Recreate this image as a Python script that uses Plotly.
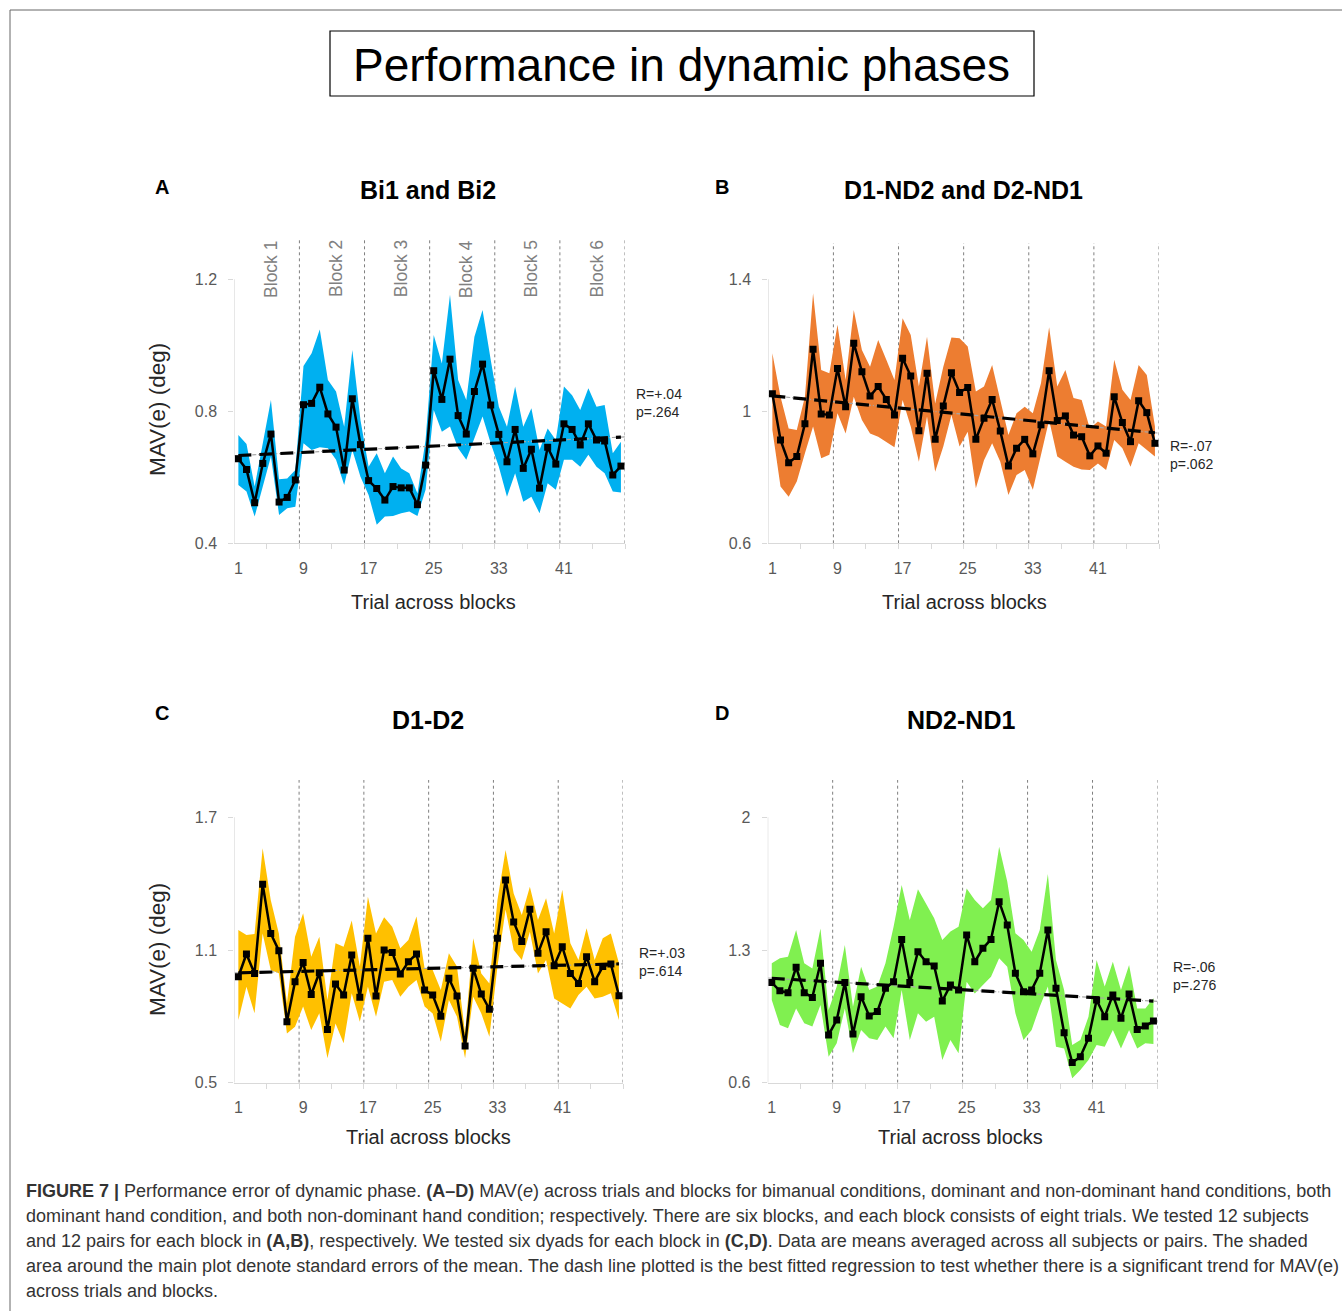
import plotly.graph_objects as go

# The capture squeezes the page vertically by ~1311/1320, so the figure is
# made 1320 px tall and reference pixel positions are mapped with REF_H.
W, H = 1342, 1320
REF_W, REF_H = 1342, 1311
FONT = "Liberation Sans, Arial, sans-serif"

# ---------------- data ----------------
trials = list(range(1, 49))
x_tick_vals = [1, 9, 17, 25, 33, 41]
block_bounds = [8.5, 16.5, 24.5, 32.5, 40.5, 48.5]
block_labels = ["Block 1", "Block 2", "Block 3", "Block 4", "Block 5", "Block 6"]
block_centers = [5, 13, 21, 29, 37, 45]

A_mean = [0.656, 0.624, 0.523, 0.642, 0.731, 0.525, 0.539, 0.592,
          0.820, 0.824, 0.873, 0.792, 0.752, 0.622, 0.838, 0.699,
          0.590, 0.566, 0.531, 0.572, 0.568, 0.568, 0.517, 0.637,
          0.923, 0.836, 0.958, 0.787, 0.731, 0.860, 0.943, 0.819,
          0.730, 0.647, 0.745, 0.627, 0.685, 0.567, 0.691, 0.640,
          0.762, 0.745, 0.698, 0.762, 0.713, 0.710, 0.607, 0.634]
A_upper = [0.728, 0.701, 0.572, 0.700, 0.834, 0.594, 0.596, 0.622,
           0.937, 0.976, 1.048, 0.895, 0.860, 0.753, 0.986, 0.774,
           0.632, 0.673, 0.612, 0.663, 0.627, 0.612, 0.551, 0.713,
           1.031, 0.945, 1.153, 0.895, 0.834, 1.026, 1.107, 0.956,
           0.814, 0.753, 0.875, 0.753, 0.809, 0.683, 0.748, 0.713,
           0.875, 0.849, 0.804, 0.870, 0.814, 0.819, 0.673, 0.708]
A_lower = [0.577, 0.557, 0.481, 0.572, 0.663, 0.486, 0.506, 0.511,
           0.703, 0.683, 0.691, 0.688, 0.653, 0.577, 0.683, 0.602,
           0.546, 0.456, 0.481, 0.483, 0.491, 0.496, 0.483, 0.562,
           0.804, 0.738, 0.754, 0.688, 0.653, 0.718, 0.784, 0.703,
           0.632, 0.541, 0.612, 0.526, 0.541, 0.491, 0.582, 0.562,
           0.653, 0.653, 0.632, 0.668, 0.632, 0.612, 0.557, 0.554]

B_mean = [1.053, 0.913, 0.844, 0.863, 0.962, 1.188, 0.992, 0.989,
          1.130, 1.014, 1.206, 1.120, 1.046, 1.075, 1.036, 0.989,
          1.161, 1.107, 0.941, 1.115, 0.915, 1.016, 1.117, 1.057,
          1.072, 0.915, 0.979, 1.036, 0.940, 0.834, 0.888, 0.915,
          0.871, 0.959, 1.123, 0.972, 0.986, 0.928, 0.923, 0.865,
          0.895, 0.873, 1.044, 0.966, 0.908, 1.032, 0.996, 0.903]
B_upper = [1.176, 1.044, 0.948, 0.943, 1.044, 1.358, 1.125, 1.115,
           1.262, 1.095, 1.307, 1.186, 1.135, 1.216, 1.156, 1.095,
           1.282, 1.231, 1.075, 1.226, 1.024, 1.135, 1.224, 1.221,
           1.196, 1.060, 1.075, 1.140, 1.034, 0.928, 0.994, 1.014,
           0.994, 1.085, 1.255, 1.075, 1.125, 1.040, 1.034, 0.948,
           0.969, 0.954, 1.156, 1.065, 1.034, 1.140, 1.110, 0.954]
B_lower = [0.943, 0.772, 0.741, 0.787, 0.873, 0.954, 0.858, 0.868,
           0.994, 0.933, 1.044, 0.974, 0.933, 0.923, 0.908, 0.891,
           1.034, 0.954, 0.847, 0.984, 0.817, 0.893, 0.989, 0.893,
           0.938, 0.767, 0.852, 0.903, 0.847, 0.746, 0.807, 0.822,
           0.762, 0.863, 0.974, 0.863, 0.847, 0.832, 0.824, 0.822,
           0.842, 0.822, 0.913, 0.888, 0.832, 0.903, 0.883, 0.863]

C_mean = [0.979, 1.082, 0.994, 1.397, 1.175, 1.097, 0.776, 0.957,
          1.043, 0.899, 0.997, 0.741, 0.946, 0.896, 1.077, 0.886,
          1.153, 0.892, 1.100, 1.089, 0.991, 1.047, 1.082, 0.919,
          0.896, 0.801, 0.972, 0.892, 0.666, 1.017, 0.901, 0.832,
          1.153, 1.417, 1.227, 1.138, 1.284, 1.085, 1.183, 1.029,
          1.115, 0.994, 0.949, 1.070, 0.957, 1.025, 1.037, 0.893]
C_upper = [1.190, 1.168, 1.172, 1.560, 1.326, 1.175, 0.859, 1.160,
           1.266, 1.070, 1.160, 0.874, 1.130, 1.115, 1.233, 1.025,
           1.341, 1.175, 1.248, 1.205, 1.108, 1.145, 1.251, 1.017,
           1.010, 0.919, 1.085, 1.025, 0.723, 1.153, 0.994, 0.949,
           1.326, 1.552, 1.356, 1.258, 1.386, 1.236, 1.334, 1.175,
           1.372, 1.130, 1.055, 1.198, 1.055, 1.153, 1.175, 1.040]
C_lower = [0.783, 0.934, 0.814, 1.175, 1.010, 0.995, 0.723, 0.753,
           0.844, 0.738, 0.814, 0.610, 0.768, 0.678, 0.904, 0.776,
           0.934, 0.798, 0.957, 0.964, 0.889, 0.934, 0.964, 0.844,
           0.813, 0.685, 0.874, 0.798, 0.610, 0.889, 0.813, 0.708,
           1.025, 1.283, 1.100, 1.055, 1.183, 0.994, 1.055, 0.881,
           0.859, 0.836, 0.896, 0.934, 0.881, 0.889, 0.904, 0.783]

D_mean = [1.128, 1.085, 1.075, 1.209, 1.075, 1.050, 1.230, 0.852,
          0.931, 1.128, 0.857, 1.054, 0.952, 0.975, 1.098, 1.133,
          1.356, 1.128, 1.291, 1.238, 1.216, 1.031, 1.115, 1.089,
          1.379, 1.238, 1.309, 1.356, 1.555, 1.432, 1.177, 1.080,
          1.089, 1.177, 1.406, 1.098, 0.864, 0.706, 0.737, 0.834,
          1.036, 0.948, 1.063, 0.940, 1.068, 0.881, 0.899, 0.925]
D_upper = [1.230, 1.256, 1.265, 1.406, 1.230, 1.203, 1.414, 0.983,
           1.107, 1.326, 1.001, 1.212, 1.089, 1.107, 1.230, 1.423,
           1.643, 1.458, 1.620, 1.546, 1.467, 1.353, 1.397, 1.423,
           1.625, 1.564, 1.520, 1.564, 1.845, 1.661, 1.388, 1.353,
           1.291, 1.406, 1.701, 1.247, 1.089, 0.799, 0.825, 0.948,
           1.247, 1.107, 1.238, 1.089, 1.221, 0.992, 0.992, 1.045]
D_lower = [1.036, 0.904, 0.887, 0.992, 0.913, 0.896, 1.010, 0.737,
           0.808, 0.992, 0.755, 0.878, 0.834, 0.825, 0.896, 0.834,
           1.089, 0.825, 0.966, 0.922, 0.948, 0.720, 0.825, 0.755,
           1.133, 1.071, 1.115, 1.159, 1.256, 1.212, 0.966, 0.825,
           0.878, 1.001, 1.107, 0.790, 0.781, 0.623, 0.667, 0.720,
           0.799, 0.790, 0.878, 0.781, 0.878, 0.781, 0.808, 0.804]

trend_x = [1, 48]
A_trend = [0.666, 0.722]
B_trend = [1.047, 0.935]
C_trend = [0.997, 1.037]
D_trend = [1.151, 1.030]

A_yticks = [0.4, 0.8, 1.2]; A_ytext = ["0.4", "0.8", "1.2"]
B_yticks = [0.6, 1.0, 1.4]; B_ytext = ["0.6", "1", "1.4"]
C_yticks = [0.5, 1.1, 1.7]; C_ytext = ["0.5", "1.1", "1.7"]
D_yticks = [0.6, 1.3, 2.0]; D_ytext = ["0.6", "1.3", "2"]

titles = ["Bi1 and Bi2", "D1-ND2 and D2-ND1", "D1-D2", "ND2-ND1"]
letters = ["A", "B", "C", "D"]
stats = ["R=+.04<br>p=.264", "R=-.07<br>p=.062", "R=+.03<br>p=.614", "R=-.06<br>p=.276"]

# ---------------- layout helpers (reference pixels -> paper) ----------------
def px(x):
    return x / REF_W

def py(y):
    return 1 - y / REF_H

panels = [
    dict(mean=A_mean, up=A_upper, lo=A_lower, trend=A_trend, color="#00B0F0",
         yt=A_yticks, ytt=A_ytext, xd=(234.3, 625.0), yd=(240.0, 543.3), span=264.0,
         letter=(162, 187), title=(428, 190), xtitle=(433, 602), ytitle=(157, 410),
         stat=(634, 403), blocks=True),
    dict(mean=B_mean, up=B_upper, lo=B_lower, trend=B_trend, color="#ED7D31",
         yt=B_yticks, ytt=B_ytext, xd=(768.3, 1159.0), yd=(243.0, 543.3), span=264.0,
         letter=(722, 187), title=(963, 190), xtitle=(964, 602), ytitle=None,
         stat=(1168, 455), blocks=False),
    dict(mean=C_mean, up=C_upper, lo=C_lower, trend=C_trend, color="#FFC000",
         yt=C_yticks, ytt=C_ytext, xd=(234.3, 623.0), yd=(780.0, 1082.7), span=265.4,
         letter=(162, 713), title=(428, 720), xtitle=(428, 1137), ytitle=(157, 950),
         stat=(637, 962), blocks=False),
    dict(mean=D_mean, up=D_upper, lo=D_lower, trend=D_trend, color="#80F050",
         yt=D_yticks, ytt=D_ytext, xd=(767.7, 1157.5), yd=(780.0, 1082.7), span=265.4,
         letter=(722, 713), title=(961, 720), xtitle=(961, 1137), ytitle=None,
         stat=(1171, 976), blocks=False),
]

fig = go.Figure()
annotations = []
shapes = []
layout_axes = {}

for i, p in enumerate(panels):
    n = "" if i == 0 else str(i + 1)
    xr, yr = "x" + n, "y" + n
    ymin, ymid, ymax = p["yt"]
    pix_per_unit = p["span"] / (ymax - ymin)
    ytop = ymin + (p["yd"][1] - p["yd"][0]) / pix_per_unit
    slope = (p["trend"][1] - p["trend"][0]) / (trend_x[1] - trend_x[0])

    # band (standard error)
    fig.add_trace(go.Scatter(
        x=trials + trials[::-1], y=p["up"] + p["lo"][::-1],
        fill="toself", fillcolor=p["color"], line=dict(width=0),
        mode="lines", hoverinfo="skip", showlegend=False, xaxis=xr, yaxis=yr))
    # grey dotted regression underlay, full width
    fig.add_trace(go.Scatter(
        x=[0.5, 48.5], y=[p["trend"][0] - slope * 0.5, p["trend"][1] + slope * 0.5],
        mode="lines", line=dict(color="#A6A6A6", width=1.2, dash="4px,2px,1px,2px"),
        showlegend=False, hoverinfo="skip", xaxis=xr, yaxis=yr))
    # black dashed regression
    fig.add_trace(go.Scatter(
        x=trend_x, y=p["trend"], mode="lines",
        line=dict(color="black", width=3.2, dash="13px,8px"),
        showlegend=False, hoverinfo="skip", xaxis=xr, yaxis=yr))
    # mean line
    fig.add_trace(go.Scatter(
        x=trials, y=p["mean"], mode="lines+markers",
        line=dict(color="black", width=2.5),
        marker=dict(symbol="square", size=7, color="black"),
        showlegend=False, xaxis=xr, yaxis=yr))

    layout_axes["xaxis" + n] = dict(
        domain=[px(p["xd"][0]), px(p["xd"][1])], anchor=yr,
        range=[0.5, 48.5], tickmode="array", tickvals=x_tick_vals,
        ticktext=[str(v) for v in x_tick_vals], ticks="",
        showline=True, linecolor="#D9D9D9", linewidth=1.2,
        showgrid=False, zeroline=False, ticklabelstandoff=10,
        tickfont=dict(family=FONT, size=16, color="#595959"),
        minor=dict(tickmode="array", tickvals=[4.5 + 4 * k for k in range(12)],
                   ticks="outside", ticklen=5, tickcolor="#D9D9D9", tickwidth=1,
                   showgrid=False))
    layout_axes["yaxis" + n] = dict(
        domain=[py(p["yd"][1]), py(p["yd"][0])], anchor=xr,
        range=[ymin, ytop], tickmode="array", tickvals=p["yt"], ticktext=p["ytt"],
        ticks="outside", ticklen=5, tickcolor="#D9D9D9", tickwidth=1,
        showline=False, showgrid=False, zeroline=False, ticklabelstandoff=8,
        tickfont=dict(family=FONT, size=16, color="#595959"))

    # y axis line (only up to the top tick)
    shapes.append(dict(type="line", xref=xr, yref=yr, x0=0.5, x1=0.5, y0=ymin, y1=ymax,
                       line=dict(color="#D9D9D9", width=1.2), layer="above"))
    # block separators
    for b in block_bounds:
        shapes.append(dict(type="line", xref=xr, yref=yr, x0=b, x1=b, y0=ymin, y1=ytop,
                           line=dict(color="#7F7F7F", width=1, dash="3px,3px"),
                           layer="below"))
    if p["blocks"]:
        ylab = ymax + (279.3 - 269.0) / pix_per_unit
        for bc, bl in zip(block_centers, block_labels):
            annotations.append(dict(x=bc, y=ylab, xref=xr, yref=yr, text=bl,
                                    textangle=-90, showarrow=False,
                                    xanchor="center", yanchor="middle",
                                    font=dict(family=FONT, size=17.5, color="#808080")))

    annotations.append(dict(x=px(p["letter"][0]), y=py(p["letter"][1]), xref="paper", yref="paper",
                            text="<b>" + letters[i] + "</b>", showarrow=False,
                            xanchor="center", yanchor="middle",
                            font=dict(family=FONT, size=20, color="black")))
    annotations.append(dict(x=px(p["title"][0]), y=py(p["title"][1]), xref="paper", yref="paper",
                            text="<b>" + titles[i] + "</b>", showarrow=False,
                            xanchor="center", yanchor="middle",
                            font=dict(family=FONT, size=25, color="black")))
    annotations.append(dict(x=px(p["xtitle"][0]), y=py(p["xtitle"][1]), xref="paper", yref="paper",
                            text="Trial across blocks", showarrow=False,
                            xanchor="center", yanchor="middle",
                            font=dict(family=FONT, size=20, color="#262626")))
    if p["ytitle"]:
        annotations.append(dict(x=px(p["ytitle"][0]), y=py(p["ytitle"][1]), xref="paper", yref="paper",
                                text="MAV(e) (deg)", textangle=-90, showarrow=False,
                                xanchor="center", yanchor="middle",
                                font=dict(family=FONT, size=22.5, color="#262626")))
    annotations.append(dict(x=px(p["stat"][0]), y=py(p["stat"][1]), xref="paper", yref="paper",
                            text=stats[i], showarrow=False, align="left",
                            xanchor="left", yanchor="middle",
                            font=dict(family=FONT, size=14, color="#262626")))

# figure title and box
annotations.append(dict(x=px(681), y=py(65), xref="paper", yref="paper",
                        text="Performance in dynamic phases", showarrow=False,
                        xanchor="center", yanchor="middle",
                        font=dict(family=FONT, size=46, color="black")))
shapes.append(dict(type="rect", xref="paper", yref="paper",
                   x0=px(330), x1=px(1034), y0=py(31), y1=py(96),
                   line=dict(color="black", width=1.2), layer="above"))
# outer frame
shapes.append(dict(type="rect", xref="paper", yref="paper",
                   x0=px(10), x1=px(1360), y0=py(10), y1=py(1340),
                   line=dict(color="#666666", width=1), layer="below"))

caption = [
    "<b>FIGURE 7 |</b> Performance error of dynamic phase. <b>(A–D)</b> MAV(<i>e</i>) across trials and blocks for bimanual conditions, dominant and non-dominant hand conditions, both",
    "dominant hand condition, and both non-dominant hand condition; respectively. There are six blocks, and each block consists of eight trials. We tested 12 subjects",
    "and 12 pairs for each block in <b>(A,B)</b>, respectively. We tested six dyads for each block in <b>(C,D)</b>. Data are means averaged across all subjects or pairs. The shaded",
    "area around the main plot denote standard errors of the mean. The dash line plotted is the best fitted regression to test whether there is a significant trend for MAV(e)",
    "across trials and blocks.",
]
for k, line in enumerate(caption):
    annotations.append(dict(x=px(24), y=py(1191 + 25 * k), xref="paper", yref="paper",
                            text=line, showarrow=False, xanchor="left", yanchor="middle",
                            font=dict(family=FONT, size=18, color="#333333")))

fig.update_layout(
    width=W, height=H, margin=dict(l=0, r=0, t=0, b=0),
    paper_bgcolor="white", plot_bgcolor="rgba(0,0,0,0)",
    showlegend=False, annotations=annotations, shapes=shapes,
    **layout_axes)

fig.write_html("out.html", config={"displayModeBar": False},
               post_script="document.body.style.margin='0';document.body.style.padding='0';")
